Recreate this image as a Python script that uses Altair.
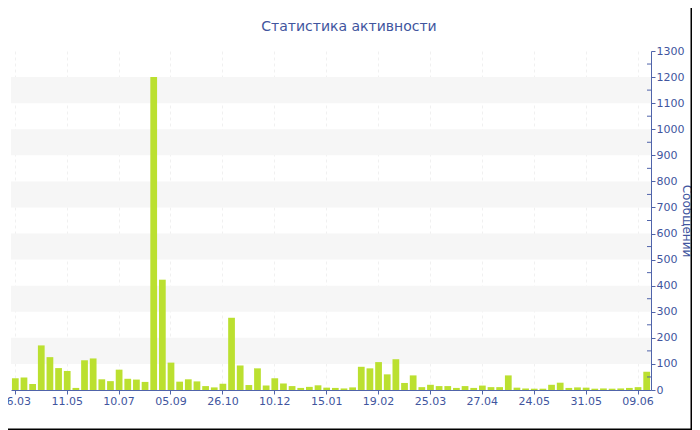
import altair as alt
import pandas as pd

# ---- data ----
values = [45, 48, 23, 171, 126, 84, 73, 8, 114, 121,
          41, 34, 78, 43, 40, 31, 1200, 423, 105, 32,
          41, 33, 15, 10, 24, 277, 94, 19, 83, 17,
          45, 25, 15, 8, 12, 18, 9, 8, 6, 10,
          89, 83, 107, 60, 118, 27, 56, 11, 20, 15,
          15, 8, 15, 8, 17, 11, 11, 56, 9, 6,
          5, 5, 20, 28, 8, 10, 9, 5, 6, 5,
          6, 8, 11, 70]
tick_labels = ["06.03", "11.05", "10.07", "05.09", "26.10", "10.12", "15.01",
               "19.02", "25.03", "27.04", "24.05", "31.05", "09.06"]
label_step = 6
band_low = [100, 300, 500, 700, 900, 1100]
band_high = [200, 400, 600, 800, 1000, 1200]
y_ticks = [0, 100, 200, 300, 400, 500, 600, 700, 800, 900, 1000, 1100, 1200, 1300]
minor_ticks = [50, 150, 250, 350, 450, 550, 650, 750, 850, 950, 1050, 1150, 1250]

bars_df = pd.DataFrame({"idx": list(range(len(values))), "msgs": values})
bands_df = pd.DataFrame({"lo": band_low, "hi": band_high})
minor_df = pd.DataFrame({"v": minor_ticks})
one_df = pd.DataFrame({"a": [0]})

TEXT = "#41559e"
LINE = "#5064aa"
FONT = "DejaVu Sans"
W, H = 640, 339
PAD = {"left": 3, "top": 43, "right": 41, "bottom": 40}

yscale = alt.Scale(domain=[0, 1300], nice=False, zero=True)
yaxis = alt.Axis(orient="right", values=y_ticks, format="d", title="Сообщений",
                 titleColor=TEXT, titleFont=FONT, titleFontSize=12,
                 titleFontWeight="normal", titleAngle=90, titleX=31, titleY=H / 2,
                 titleAlign="center", titleBaseline="alphabetic",
                 labelColor=TEXT, labelFont=FONT, labelFontSize=11,
                 tickColor=LINE, domainColor=LINE, tickSize=4, labelPadding=1,
                 grid=False)

label_expr = "[" + ",".join(f"'{t}'" for t in tick_labels) + f"][datum.value / {label_step}]"
xaxis = alt.Axis(values=list(range(0, len(values), label_step)), labelExpr=label_expr,
                 title=None, labelAngle=0, labelColor=TEXT, labelFont=FONT,
                 labelFontSize=11, tickColor=LINE, domainColor=LINE, tickSize=4,
                 labelPadding=1, grid=True, gridColor="#f0f0f0", gridDash=[3, 3],
                 labelOverlap=False, labelBound=False, labelFlush=False)

bands = alt.Chart(bands_df).mark_rect(color="#f6f6f6").encode(
    x=alt.value(0), x2=alt.value(W),
    y=alt.Y("lo:Q", scale=yscale, axis=yaxis), y2="hi:Q")

bars = alt.Chart(bars_df).mark_bar(color="#bbe030").encode(
    x=alt.X("idx:O", axis=xaxis, scale=alt.Scale(paddingInner=0.22, paddingOuter=0.11)),
    y=alt.Y("msgs:Q", scale=yscale, axis=yaxis))

minor = alt.Chart(minor_df).mark_rule(color=LINE).encode(
    x=alt.value(W - 4), x2=alt.value(W),
    y=alt.Y("v:Q", scale=yscale, axis=yaxis))

right_border = alt.Chart(one_df).mark_rule(color="black", strokeWidth=1.5).encode(
    x=alt.value(W + PAD["right"] - 0.75), y=alt.value(-PAD["top"]), y2=alt.value(H + PAD["bottom"]))
bottom_border = alt.Chart(one_df).mark_rule(color="black", strokeWidth=1.5).encode(
    x=alt.value(-PAD["left"]), x2=alt.value(W + PAD["right"]), y=alt.value(H + PAD["bottom"] - 0.75))

chart = alt.layer(bands, bars, minor, right_border, bottom_border).properties(
    width=W, height=H, padding=PAD,
    autosize=alt.AutoSizeParams(type="none"),
    title=alt.Title("Статистика активности", font=FONT, fontSize=14,
                    fontWeight="normal", color=TEXT, anchor="middle",
                    frame="group", dx=18, dy=41, offset=14),
).configure_view(stroke=None)

chart.save("out.html", embed_options={"renderer": "svg", "actions": False})
